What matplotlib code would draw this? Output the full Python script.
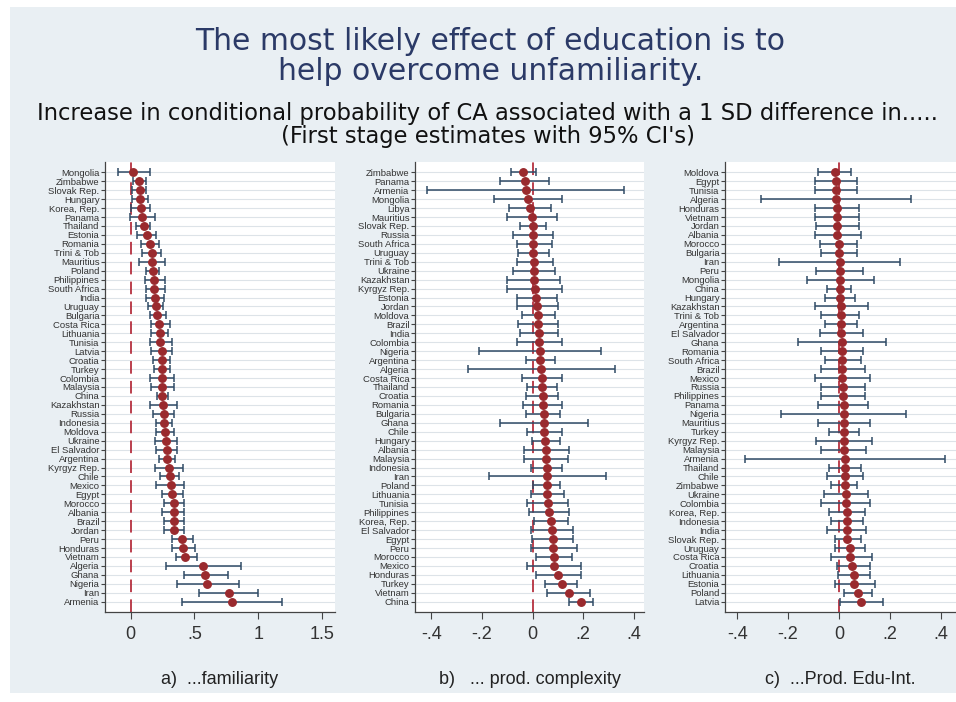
import numpy as np
import matplotlib.pyplot as plt
from matplotlib.patches import Rectangle

plt.rcParams['font.family'] = ['Liberation Sans Narrow', 'Liberation Sans', 'DejaVu Sans']

# a) familiarity
fam_countries = ["Mongolia", "Zimbabwe", "Slovak Rep.", "Hungary", "Korea, Rep.", "Panama",
                 "Thailand", "Estonia", "Romania", "Trini & Tob", "Mauritius", "Poland",
                 "Philippines", "South Africa", "India", "Uruguay", "Bulgaria", "Costa Rica",
                 "Lithuania", "Tunisia", "Latvia", "Croatia", "Turkey", "Colombia", "Malaysia",
                 "China", "Kazakhstan", "Russia", "Indonesia", "Moldova", "Ukraine",
                 "El Salvador", "Argentina", "Kyrgyz Rep.", "Chile", "Mexico", "Egypt",
                 "Morocco", "Albania", "Brazil", "Jordan", "Peru", "Honduras", "Vietnam",
                 "Algeria", "Ghana", "Nigeria", "Iran", "Armenia"]
fam_est = [0.02, 0.067, 0.07, 0.075, 0.08, 0.088, 0.106, 0.13, 0.15, 0.166, 0.17, 0.176,
           0.184, 0.187, 0.19, 0.197, 0.21, 0.223, 0.228, 0.233, 0.244, 0.244, 0.244, 0.246,
           0.249, 0.249, 0.254, 0.259, 0.259, 0.27, 0.28, 0.285, 0.288, 0.298, 0.31, 0.313,
           0.326, 0.337, 0.337, 0.34, 0.342, 0.40, 0.41, 0.427, 0.565, 0.585, 0.598, 0.767,
           0.793]
fam_lo = [-0.10, 0.016, 0.013, 0.008, 0.0, -0.005, 0.04, 0.054, 0.08, 0.09, 0.067, 0.124,
          0.11, 0.124, 0.124, 0.137, 0.15, 0.158, 0.163, 0.15, 0.163, 0.176, 0.184, 0.15,
          0.163, 0.207, 0.15, 0.176, 0.202, 0.202, 0.19, 0.202, 0.22, 0.19, 0.233, 0.202,
          0.249, 0.26, 0.249, 0.26, 0.26, 0.324, 0.324, 0.352, 0.28, 0.417, 0.363, 0.534,
          0.404]
fam_hi = [0.15, 0.12, 0.124, 0.137, 0.15, 0.194, 0.155, 0.20, 0.22, 0.236, 0.267, 0.223,
          0.267, 0.267, 0.26, 0.254, 0.275, 0.306, 0.293, 0.324, 0.324, 0.311, 0.311, 0.337,
          0.337, 0.293, 0.363, 0.337, 0.326, 0.337, 0.363, 0.363, 0.35, 0.41, 0.378, 0.417,
          0.41, 0.417, 0.42, 0.42, 0.42, 0.487, 0.505, 0.518, 0.863, 0.76, 0.845, 0.997,
          1.187]

# b) product complexity
cpx_countries = ["Zimbabwe", "Panama", "Armenia", "Mongolia", "Libya", "Mauritius",
                 "Slovak Rep.", "Russia", "South Africa", "Uruguay", "Trini & Tob", "Ukraine",
                 "Kazakhstan", "Kyrgyz Rep.", "Estonia", "Jordan", "Moldova", "Brazil", "India",
                 "Colombia", "Nigeria", "Argentina", "Algeria", "Costa Rica", "Thailand",
                 "Croatia", "Romania", "Bulgaria", "Ghana", "Chile", "Hungary", "Albania",
                 "Malaysia", "Indonesia", "Iran", "Poland", "Lithuania", "Tunisia",
                 "Philippines", "Korea, Rep.", "El Salvador", "Egypt", "Peru", "Morocco",
                 "Mexico", "Honduras", "Turkey", "Vietnam", "China"]
cpx_est = [-0.037, -0.030, -0.026, -0.017, -0.009, -0.004, 0.0, 0.0, 0.003, 0.003, 0.004,
           0.005, 0.007, 0.009, 0.013, 0.016, 0.02, 0.022, 0.025, 0.026, 0.029, 0.03, 0.033,
           0.036, 0.036, 0.039, 0.039, 0.043, 0.046, 0.046, 0.049, 0.053, 0.053, 0.055, 0.055,
           0.057, 0.058, 0.059, 0.064, 0.071, 0.075, 0.08, 0.082, 0.084, 0.084, 0.101, 0.114,
           0.143, 0.19]
cpx_lo = [-0.086, -0.129, -0.417, -0.151, -0.093, -0.10, -0.05, -0.079, -0.063, -0.057,
          -0.063, -0.079, -0.10, -0.10, -0.063, -0.063, -0.043, -0.057, -0.05, -0.063, -0.214,
          -0.028, -0.257, -0.043, -0.021, -0.028, -0.037, -0.028, -0.129, -0.021, -0.004,
          -0.034, -0.034, -0.008, -0.172, 0.0, -0.008, -0.021, -0.014, 0.005, -0.008, -0.004,
          -0.008, 0.013, -0.021, 0.013, 0.049, 0.058, 0.145]
cpx_hi = [0.013, 0.064, 0.362, 0.117, 0.072, 0.095, 0.051, 0.082, 0.075, 0.064, 0.082, 0.088,
          0.11, 0.117, 0.095, 0.101, 0.088, 0.101, 0.101, 0.117, 0.27, 0.088, 0.325, 0.117,
          0.095, 0.101, 0.117, 0.11, 0.22, 0.117, 0.11, 0.145, 0.138, 0.117, 0.29, 0.11,
          0.124, 0.138, 0.145, 0.138, 0.16, 0.16, 0.174, 0.154, 0.19, 0.19, 0.174, 0.226,
          0.237]

# c) product education intensity
edu_countries = ["Moldova", "Egypt", "Tunisia", "Algeria", "Honduras", "Vietnam", "Jordan",
                 "Albania", "Morocco", "Bulgaria", "Iran", "Peru", "Mongolia", "China",
                 "Hungary", "Kazakhstan", "Trini & Tob", "Argentina", "El Salvador", "Ghana",
                 "Romania", "South Africa", "Brazil", "Mexico", "Russia", "Philippines",
                 "Panama", "Nigeria", "Mauritius", "Turkey", "Kyrgyz Rep.", "Malaysia",
                 "Armenia", "Thailand", "Chile", "Zimbabwe", "Ukraine", "Colombia",
                 "Korea, Rep.", "Indonesia", "India", "Slovak Rep.", "Uruguay", "Costa Rica",
                 "Croatia", "Lithuania", "Estonia", "Poland", "Latvia"]
edu_est = [-0.017, -0.013, -0.013, -0.013, -0.007, -0.007, -0.007, -0.007, 0.0, 0.0, 0.003,
           0.003, 0.003, 0.003, 0.005, 0.009, 0.009, 0.009, 0.009, 0.012, 0.012, 0.012, 0.012,
           0.013, 0.016, 0.016, 0.018, 0.018, 0.018, 0.018, 0.02, 0.02, 0.022, 0.022, 0.022,
           0.022, 0.029, 0.029, 0.031, 0.031, 0.033, 0.033, 0.042, 0.045, 0.052, 0.058, 0.059,
           0.075, 0.088]
edu_lo = [-0.083, -0.096, -0.096, -0.306, -0.093, -0.093, -0.089, -0.096, -0.073, -0.07,
          -0.234, -0.089, -0.125, -0.046, -0.054, -0.096, -0.07, -0.054, -0.076, -0.161,
          -0.07, -0.054, -0.07, -0.096, -0.07, -0.07, -0.083, -0.227, -0.083, -0.039, -0.089,
          -0.07, -0.371, -0.039, -0.046, -0.03, -0.059, -0.07, -0.039, -0.03, -0.046, -0.014,
          -0.017, -0.03, -0.007, -0.004, -0.017, 0.02, 0.005]
edu_hi = [0.049, 0.071, 0.071, 0.285, 0.077, 0.077, 0.077, 0.085, 0.071, 0.071, 0.239, 0.094,
          0.136, 0.049, 0.064, 0.114, 0.077, 0.071, 0.094, 0.186, 0.094, 0.085, 0.101, 0.121,
          0.101, 0.101, 0.114, 0.265, 0.121, 0.077, 0.13, 0.108, 0.416, 0.085, 0.094, 0.071,
          0.114, 0.121, 0.101, 0.094, 0.108, 0.085, 0.101, 0.13, 0.121, 0.121, 0.14, 0.13,
          0.173]

panels = [
    (fam_countries, fam_est, fam_lo, fam_hi, (-0.2, 1.6), [0, 0.5, 1, 1.5],
     ["0", ".5", "1", "1.5"], "a)  ...familiarity"),
    (cpx_countries, cpx_est, cpx_lo, cpx_hi, (-0.465, 0.44), [-0.4, -0.2, 0, 0.2, 0.4],
     ["-.4", "-.2", "0", ".2", ".4"], "b)   ... prod. complexity"),
    (edu_countries, edu_est, edu_lo, edu_hi, (-0.448, 0.46), [-0.4, -0.2, 0, 0.2, 0.4],
     ["-.4", "-.2", "0", ".2", ".4"], "c)  ...Prod. Edu-Int."),
]

fig = plt.figure(figsize=(9.56, 7.02), dpi=100, facecolor='white')
fig.patches.append(Rectangle((10 / 956, 9 / 702), 946 / 956, 686 / 702,
                             transform=fig.transFigure, facecolor='#e9eff3',
                             edgecolor='none', zorder=-10))

fig.text(0.513, 0.9195, "The most likely effect of education is to\nhelp overcome unfamiliarity.",
         ha='center', va='center', fontsize=21.5, color='#2b3a67', linespacing=1.06,
         family='DejaVu Sans')
fig.text(0.51, 0.822, "Increase in conditional probability of CA associated with a 1 SD difference in.....\n(First stage estimates with 95% CI's)",
         ha='center', va='center', fontsize=16.3, color='#111111', linespacing=1.04,
         family='DejaVu Sans')

lefts = [105 / 956, 415 / 956, 725 / 956]
widths = [230 / 956, 229 / 956, 231 / 956]
bottom = 1 - 612 / 702
height = (612 - 162) / 702

for i, (names, est, lo, hi, xlim, ticks, ticklabels, label) in enumerate(panels):
    ax = fig.add_axes([lefts[i], bottom, widths[i], height])
    ax.set_facecolor('white')
    y = np.arange(len(names))
    est = np.array(est)
    lo = np.array(lo)
    hi = np.array(hi)

    for yy in y:
        ax.axhline(yy, color='#dde3e8', lw=0.8, zorder=0)
    ax.axvline(0, color='#b5303f', lw=1.3, dashes=(7, 4), zorder=1)
    ax.errorbar(est, y, xerr=[est - lo, hi - est], fmt='none', ecolor='#304b66',
                elinewidth=1.1, capsize=2.6, capthick=1.1, zorder=2)
    ax.plot(est, y, 'o', color='#9a2a2e', markersize=5.4, zorder=3)

    ax.set_xlim(*xlim)
    ax.set_ylim(len(names) - 1 + 1.15, -1.15)
    ax.set_yticks(y)
    ax.set_yticklabels(names, fontsize=6.8, color='#333333')
    ax.set_xticks(ticks)
    ax.set_xticklabels(ticklabels, fontsize=13, color='#333333')
    ax.tick_params(axis='y', length=3, width=0.8, color='#444444', pad=1)
    ax.tick_params(axis='x', length=5, width=0.8, color='#444444', pad=5)
    for s in ['top', 'right']:
        ax.spines[s].set_visible(False)
    for s in ['left', 'bottom']:
        ax.spines[s].set_color('#444444')
        ax.spines[s].set_linewidth(0.9)
    ax.set_xlabel(label, fontsize=13, color='#222222', labelpad=20)

fig.savefig('out.png', dpi=100, facecolor=fig.get_facecolor())
